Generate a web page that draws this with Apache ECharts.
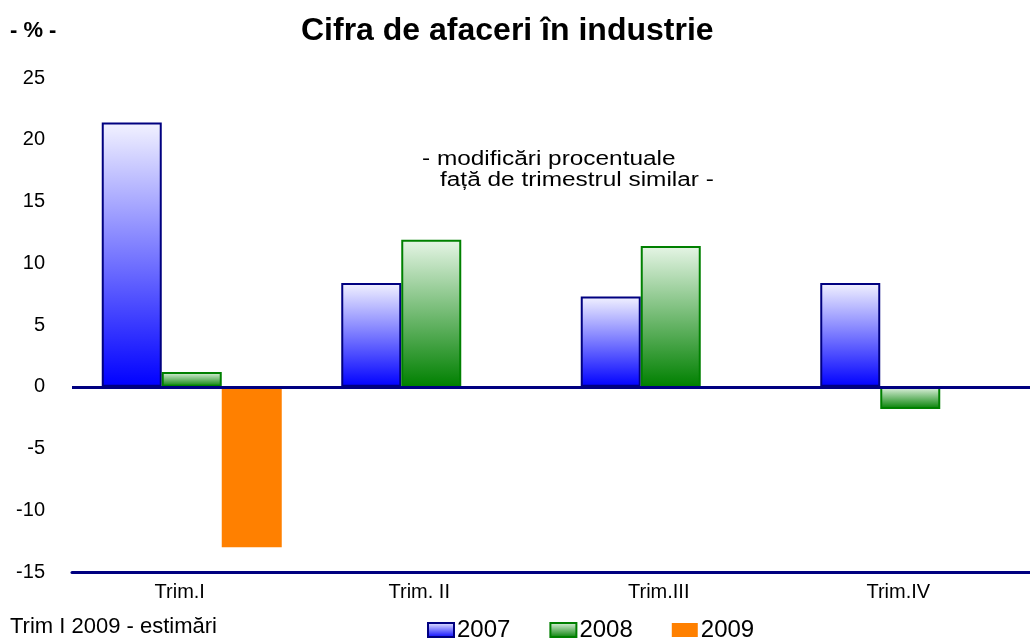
<!DOCTYPE html>
<html>
<head>
<meta charset="utf-8">
<script src="https://cdn.jsdelivr.net/npm/echarts@6/dist/echarts.min.js"></script>
<style>
  html, body { margin: 0; padding: 0; background: #fff; }
  #chart { width: 1030px; height: 640px; }
</style>
</head>
<body>
<div id="chart"></div>
<script>
// trimestre
const categories = ['Trim.I', 'Trim. II', 'Trim.III', 'Trim.IV'];
// modificari procentuale fata de trimestrul similar
const values2007 = [21.4, 8.4, 7.3, 8.4];
const values2008 = [1.2, 11.9, 11.4, -1.8];
const values2009 = [-13.0, null, null, null];
const yTicks = { min: -15, max: 25, step: 5 };

const chart = echarts.init(document.getElementById('chart'));

function vGrad(top, bottom) {
  return new echarts.graphic.LinearGradient(0, 0, 0, 1, [
    { offset: 0, color: top },
    { offset: 1, color: bottom }
  ]);
}

const font = 'Liberation Sans, Arial, sans-serif';

const option = {
  backgroundColor: '#fff',
  textStyle: { fontFamily: font, color: '#000' },
  title: {
    text: 'Cifra de afaceri în industrie',
    left: 296,
    top: 10,
    textStyle: { fontSize: 32, fontWeight: 'bold', color: '#000', fontFamily: font }
  },
  grid: { left: 72, right: 0, top: 78, bottom: 68 },
  legend: {
    left: 422,
    top: 613,
    icon: 'rect',
    itemWidth: 26,
    itemHeight: 14,
    itemGap: 39,
    textStyle: { fontSize: 24, color: '#000', fontFamily: font, padding: [0, 0, 0, -2] },
    data: ['2007', '2008', '2009']
  },
  xAxis: {
    type: 'category',
    data: categories,
    axisLine: { onZero: false, lineStyle: { color: '#000080', width: 3 } },
    axisTick: { show: false },
    axisLabel: { fontSize: 20, color: '#000', margin: 10, padding: [0, 24, 0, 0] }
  },
  yAxis: {
    type: 'value',
    min: yTicks.min,
    max: yTicks.max,
    interval: yTicks.step,
    axisLine: { show: false },
    axisTick: { show: false },
    splitLine: { show: false },
    axisLabel: { fontSize: 20, color: '#000', margin: 27 }
  },
  graphic: [
    { type: 'text', left: 10, top: 20, style: { text: '- % -', font: 'bold 22px ' + font, fill: '#000' } },
    { type: 'text', left: 422, top: 149, scaleX: 1.22, style: { text: '- modificări procentuale', font: '20px ' + font, fill: '#000' } },
    { type: 'text', left: 440, top: 170, scaleX: 1.22, style: { text: 'față de trimestrul similar -', font: '20px ' + font, fill: '#000' } },
    { type: 'text', left: 10, top: 616, style: { text: 'Trim I 2009 - estimări', font: '22px ' + font, fill: '#000' } }
  ],
  series: [
    {
      name: '2007',
      type: 'bar',
      data: values2007,
      barWidth: 60,
      barGap: '0%',
      itemStyle: { color: vGrad('#f2f2ff', '#0000ff'), borderColor: '#000080', borderWidth: 2 },
      markLine: {
        silent: true,
        symbol: 'none',
        label: { show: false },
        lineStyle: { color: '#000080', width: 3, type: 'solid' },
        data: [{ yAxis: 0 }],
        z: 10
      }
    },
    {
      name: '2008',
      type: 'bar',
      data: values2008,
      barWidth: 60,
      barGap: '0%',
      itemStyle: { color: vGrad('#e6f5e6', '#008000'), borderColor: '#008000', borderWidth: 2 }
    },
    {
      name: '2009',
      type: 'bar',
      data: values2009,
      barWidth: 60,
      barGap: '0%',
      itemStyle: { color: '#ff8000' }
    }
  ]
};

chart.setOption(option);
</script>
</body>
</html>
